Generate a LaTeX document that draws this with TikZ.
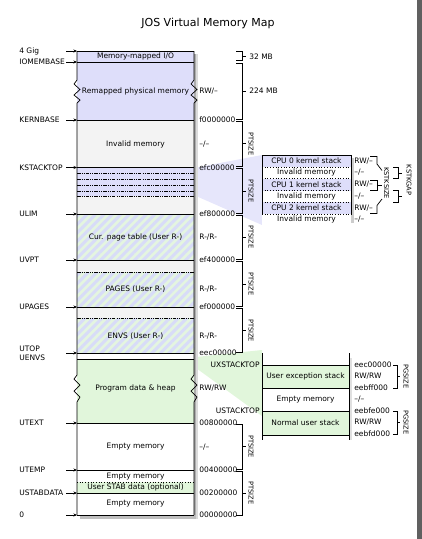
\documentclass[tikz,border=0pt]{standalone}
\usepackage{fontspec}
\setmainfont{DejaVu Sans}
\usetikzlibrary{arrows.meta, patterns.meta}
\definecolor{kernblue}{RGB}{222,222,250}
\definecolor{invgray}{RGB}{243,243,243}
\definecolor{usergreen}{RGB}{225,246,219}
\definecolor{hatchgreen}{RGB}{228,245,224}
\definecolor{hatchblue}{RGB}{216,220,248}
\definecolor{edgegray}{RGB}{96,96,96}
\begin{document}
\begin{tikzpicture}[x = 1pt, y = -1pt, >={Stealth[length = 3.5pt, width = 3pt]},
		font = \fontsize{7.5}{9}\selectfont, line width = 0.7pt,
		dashdot/.style = {dash pattern = on 3.5pt off 1.2pt on 0.8pt off 1.2pt on 0.8pt off 1.2pt},
		stripes/.style = {fill = hatchgreen, postaction = {pattern = {Lines[angle = 45, distance = 6pt, line width = 3pt]}, pattern color = hatchblue}},
		sizelabel/.style = {rotate = -90, font = \fontsize{6.6}{8}\selectfont, inner sep = 0pt},
		addr/.style = {anchor = west, inner sep = 1pt}]
		\useasboundingbox (0,0) rectangle (422,539);
		\fill [edgegray] (417,0) rectangle (422,539);
		\node (title) at (208,23) {\fontsize{11}{13}\selectfont JOS Virtual Memory Map};
		% fans to the detail boxes
		\fill [kernblue!75] (196,167.5) -- (262,155) -- (262,225) -- (196,196) -- cycle;
		\fill [usergreen] (196,357) -- (262,350) -- (262,416) -- (196,368) -- cycle;
		% shadow
		\fill [black!32] (194,54) rectangle (196,518.5);
		\fill [black!14] (196,54) rectangle (198,518.5);
		\fill [black!25] (80,515) rectangle (196,518.5);
		% main column
		\fill [kernblue] (77,51) rectangle (194,120);
		\fill [invgray] (77,120) rectangle (194,167.5);
		\fill [kernblue] (77,167.5) rectangle (194,196);
		\fill [invgray] (77,196) rectangle (194,214);
		\fill [stripes] (77,214) rectangle (194,260);
		\fill [invgray] (77,260) rectangle (194,272);
		\fill [stripes] (77,272) rectangle (194,307);
		\fill [invgray] (77,307) rectangle (194,318);
		\fill [stripes] (77,318) rectangle (194,353);
		\fill [white] (77,353) rectangle (194,359);
		\fill [usergreen] (77,359) rectangle (194,423);
		\fill [white] (77,423) rectangle (194,482);
		\fill [usergreen] (77,482) rectangle (194,493);
		\fill [white] (77,493) rectangle (194,515);
		\foreach \x in {77, 194}
			\draw (\x,51) -- (\x,80) -- (\x-3,84) -- (\x+3,89.5) -- (\x-3,95) -- (\x+3,100) -- (\x,103) -- (\x,375)
				-- (\x-3,379) -- (\x+3,385) -- (\x-3,391) -- (\x+3,397) -- (\x,402) -- (\x,515);
		\foreach \y in {51, 62, 120, 167.5, 214, 260, 307, 353, 359, 423, 470, 493, 515}
			\draw (77,\y) -- (194,\y);
		\foreach \y in {173, 179, 185, 191, 196, 272, 318}
			\draw [dashdot] (77,\y) -- (194,\y);
		\draw [dotted] (77,482) -- (194,482);
		\node (mmio) at (135.5,56.5) {Memory-mapped I/O};
		\node (remap) at (135.5,91) {Remapped physical memory};
		\node (invalid) at (135.5,144) {Invalid memory};
		\node (uvpt) at (135.5,237) {Cur. page table (User R-)};
		\node (pages) at (135.5,289.5) {PAGES (User R-)};
		\node (envs) at (135.5,336.5) {ENVS (User R-)};
		\node (heap) at (135.5,388) {Program data \& heap};
		\node (empty1) at (135.5,447) {Empty memory};
		\node (empty2) at (135.5,476.5) {Empty memory};
		\node (stab) at (135.5,487.5) {User STAB data (optional)};
		\node (empty3) at (135.5,504) {Empty memory};
		% left labels
		\foreach \t/\y [count = \i] in {4 Gig/51, IOMEMBASE/62, KERNBASE/120, KSTACKTOP/167.5, ULIM/214, UVPT/260,
				UPAGES/307, UTEXT/423, UTEMP/470, USTABDATA/493, 0/515} {
			\node [anchor = west, inner sep = 1pt] (base\i) at (18,\y) {\t};
			\draw [->] (66,\y) -- (77,\y);
		}
		\node [anchor = west, inner sep = 1pt] (utop) at (18,348.5) {UTOP};
		\node [anchor = west, inner sep = 1pt] (uenvs) at (18,358) {UENVS};
		\draw [->] (66,353) -- (77,353);
		% right labels
		\foreach \t/\y in {{RW/--}/91, f0000000/120, {--/--}/144, efc00000/167.5, ef800000/214, {R-/R-}/237, ef400000/260,
				{R-/R-}/289.5, ef000000/307, {R-/R-}/336.5, eec00000/353, {RW/RW}/388, 00800000/423, {--/--}/447,
				00400000/470, 00200000/493, 00000000/515}
			\node [addr] at (198,\y) {\t};
		\node [anchor = east, inner sep = 1pt] (uxstacktop) at (261,365) {UXSTACKTOP};
		\node [anchor = east, inner sep = 1pt] (ustacktop) at (261,411) {USTACKTOP};
		% size brackets
		\draw (236,51.5) -- (242,51.5) -- (242,60.5) -- (236,60.5) (242,56) -- (246,56);
		\node [anchor = west, inner sep = 1pt] (mb32) at (248,56.5) {32 MB};
		\draw (236,63) -- (242,63) -- (242,119.5) -- (236,119.5) (242,91) -- (246,91);
		\node [anchor = west, inner sep = 1pt] (mb224) at (248,91) {224 MB};
		\foreach \a/\m/\b in {121/143.75/166.5, 168.5/191/213, 215/237/259, 261/284/306, 308/330.5/352,
				424/446.5/469, 471/493/515} {
			\draw (236,\a) -- (242,\a) -- (242,\b) -- (236,\b) (242,\m) -- (246,\m);
			\node [sizelabel] at (251,\m) {PTSIZE};
		}
		% kernel stacks
		\fill [black!20] (351,158) rectangle (354,223);
		\fill [kernblue] (262,155) rectangle (351,167);
		\fill [white] (262,167) rectangle (351,178.5);
		\fill [kernblue] (262,178.5) rectangle (351,190.5);
		\fill [white] (262,190.5) rectangle (351,202);
		\fill [kernblue] (262,202) rectangle (351,214);
		\fill [white] (262,214) rectangle (351,225);
		\draw (262,214.5) -- (262,155) -- (351,155) -- (351,214.5);
		\foreach \y in {167, 178.5, 190.5, 202, 214}
			\draw [dotted] (262,\y) -- (351,\y);
		\node (cpu0) at (306.5,161) {CPU 0 kernel stack};
		\node (gap0) at (306.5,172.5) {Invalid memory};
		\node (cpu1) at (306.5,184.5) {CPU 1 kernel stack};
		\node (gap1) at (306.5,196) {Invalid memory};
		\node (cpu2) at (306.5,208) {CPU 2 kernel stack};
		\node (gap2) at (306.5,219.5) {Invalid memory};
		\foreach \t/\y in {{RW/--}/161, {--/--}/172.5, {RW/--}/184.5, {--/--}/196, {RW/--}/208, {--/--}/219.5}
			\node [addr] at (353,\y) {\t};
		\draw (370,156.5) -- (377,156.5) -- (377,164) -- (382,170.5);
		\draw (370,180) -- (377,180) -- (377,190) -- (370,190) (377,185) -- (382,185);
		\draw (370,213.5) -- (377,213.5) -- (377,205.5) -- (382,199);
		\node [sizelabel] (kstksize) at (386.5,183) {KSTKSIZE};
		\draw (393,167) -- (398,167) -- (398,178.5) -- (393,178.5) (398,173) -- (402,173);
		\draw (393,190.5) -- (398,190.5) -- (398,202) -- (393,202) (398,196) -- (402,196);
		\node [sizelabel] (kstkgap) at (409,180) {KSTKGAP};
		% user stacks
		\fill [black!12] (349,358) rectangle (352,440);
		\fill [white] (262,353) rectangle (349,440);
		\fill [usergreen] (262,365) rectangle (349,388);
		\fill [usergreen] (262,411) rectangle (349,435);
		\draw (262,353) -- (262,440) (349,353) -- (349,440);
		\foreach \y in {365, 388, 411, 435}
			\draw (262,\y) -- (349,\y);
		\node (uxstack) at (305.5,376.5) {User exception stack};
		\node (uempty) at (305.5,399.5) {Empty memory};
		\node (ustack) at (305.5,423) {Normal user stack};
		\foreach \t/\y in {eec00000/365, {RW/RW}/376.5, eebff000/388, {--/--}/399.5, eebfe000/411, {RW/RW}/422.5, eebfd000/434}
			\node [addr] at (353,\y) {\t};
		\draw (393,365) -- (397,365) -- (397,388) -- (393,388) (397,376.5) -- (400,376.5);
		\node [sizelabel] at (406,376.5) {PGSIZE};
		\draw (393,411) -- (397,411) -- (397,434) -- (393,434) (397,422.5) -- (400,422.5);
		\node [sizelabel] at (406,422.5) {PGSIZE};
	\end{tikzpicture}
\end{document}
